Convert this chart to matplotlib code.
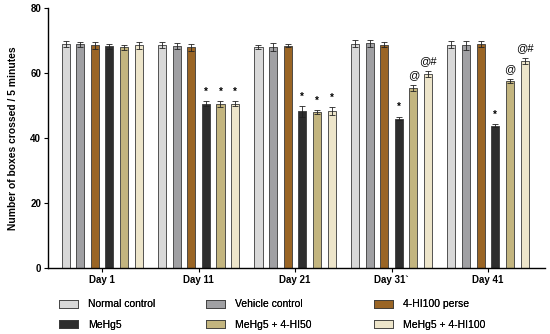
import numpy as np
import matplotlib.pyplot as plt
from matplotlib.patches import Patch

plt.rcParams['font.family'] = ['Liberation Sans', 'DejaVu Sans']

days = ['Day 1', 'Day 11', 'Day 21', 'Day 31`', 'Day 41']
groups = ['Normal control', 'Vehicle control', '4-HI100 perse',
          'MeHg5', 'MeHg5 + 4-HI50', 'MeHg5 + 4-HI100']
colors = ['#d8d8d8', '#a0a0a3', '#9a6525', '#2e2e2e', '#c3b57f', '#ede5ca']

# rows = groups, columns = days
means = [
    [69.0, 68.6, 68.1, 69.0, 68.7],
    [68.8, 68.3, 67.9, 69.1, 68.5],
    [68.5, 67.9, 68.4, 68.7, 68.9],
    [68.2, 50.5, 48.2, 46.0, 43.8],
    [67.9, 50.5, 48.1, 55.3, 57.6],
    [68.5, 50.6, 48.3, 59.7, 63.7],
]
errs = [
    [1.0, 1.0, 0.6, 1.1, 1.0],
    [0.8, 0.9, 1.2, 1.0, 1.4],
    [1.1, 1.0, 0.4, 0.8, 1.0],
    [0.7, 0.8, 1.6, 0.6, 0.5],
    [0.7, 0.9, 0.6, 0.9, 0.6],
    [1.0, 0.9, 1.3, 0.9, 0.9],
]
marks = [
    ['', '', '', '', ''],
    ['', '', '', '', ''],
    ['', '', '', '', ''],
    ['', '*', '*', '*', '*'],
    ['', '*', '*', '@', '@'],
    ['', '*', '*', '@#', '@#'],
]

fig = plt.figure(figsize=(5.5, 3.34), dpi=100)
ax = fig.add_axes([48 / 550, 1 - 268 / 334, 497 / 550, 260 / 334])

gap = 6.6
width = 0.55
centers = np.arange(len(days)) * gap
for i in range(len(groups)):
    x = centers + (i - 2.5)
    ax.bar(x, means[i], width, color=colors[i], edgecolor='#3a3a3a', linewidth=0.6,
           yerr=errs[i], capsize=2, error_kw=dict(elinewidth=0.6, capthick=0.6, ecolor='#222222'))
    for j in range(len(days)):
        m = marks[i][j]
        if m:
            fs = 7 if m == '*' else 8
            dy = 1.3 if m == '*' else 1.5
            ax.text(x[j], means[i][j] + errs[i][j] + dy, m, ha='center', va='bottom',
                    fontsize=fs, fontweight='bold' if m == '*' else 'normal')

ax.set_ylim(0, 80)
ax.set_xlim(centers[0] - 3.3 - 0.4, centers[-1] + 3.3 + 0.6)
ax.set_yticks([0, 20, 40, 60, 80])
ax.set_xticks(centers)
ax.set_xticklabels(days)
for lab in ax.get_xticklabels() + ax.get_yticklabels():
    lab.set_fontweight('bold')
    lab.set_fontsize(7)
ax.tick_params(axis='both', length=3, width=0.8, pad=2)
ax.spines['top'].set_visible(False)
ax.spines['right'].set_visible(False)
ax.spines['left'].set_linewidth(1.0)
ax.spines['bottom'].set_linewidth(1.0)
ax.set_ylabel('Number of boxes crossed / 5 minutes', fontsize=7.4, fontweight='bold', labelpad=9)

# one legend per column, two rows each
col_x = [55, 202, 370]
for c in range(3):
    idx = [c, c + 3]
    handles = [Patch(facecolor=colors[k], edgecolor='#3a3a3a', linewidth=0.6, label=groups[k]) for k in idx]
    leg = fig.legend(handles=handles, loc='upper left', bbox_to_anchor=(col_x[c] / 550, 1 - 295 / 334),
                     ncol=1, frameon=False, fontsize=7.5, handlelength=1.8, handleheight=0.8,
                     labelspacing=1.0, handletextpad=1.0, borderaxespad=0)
    fig.add_artist(leg)

fig.savefig('out.png', dpi=100)
